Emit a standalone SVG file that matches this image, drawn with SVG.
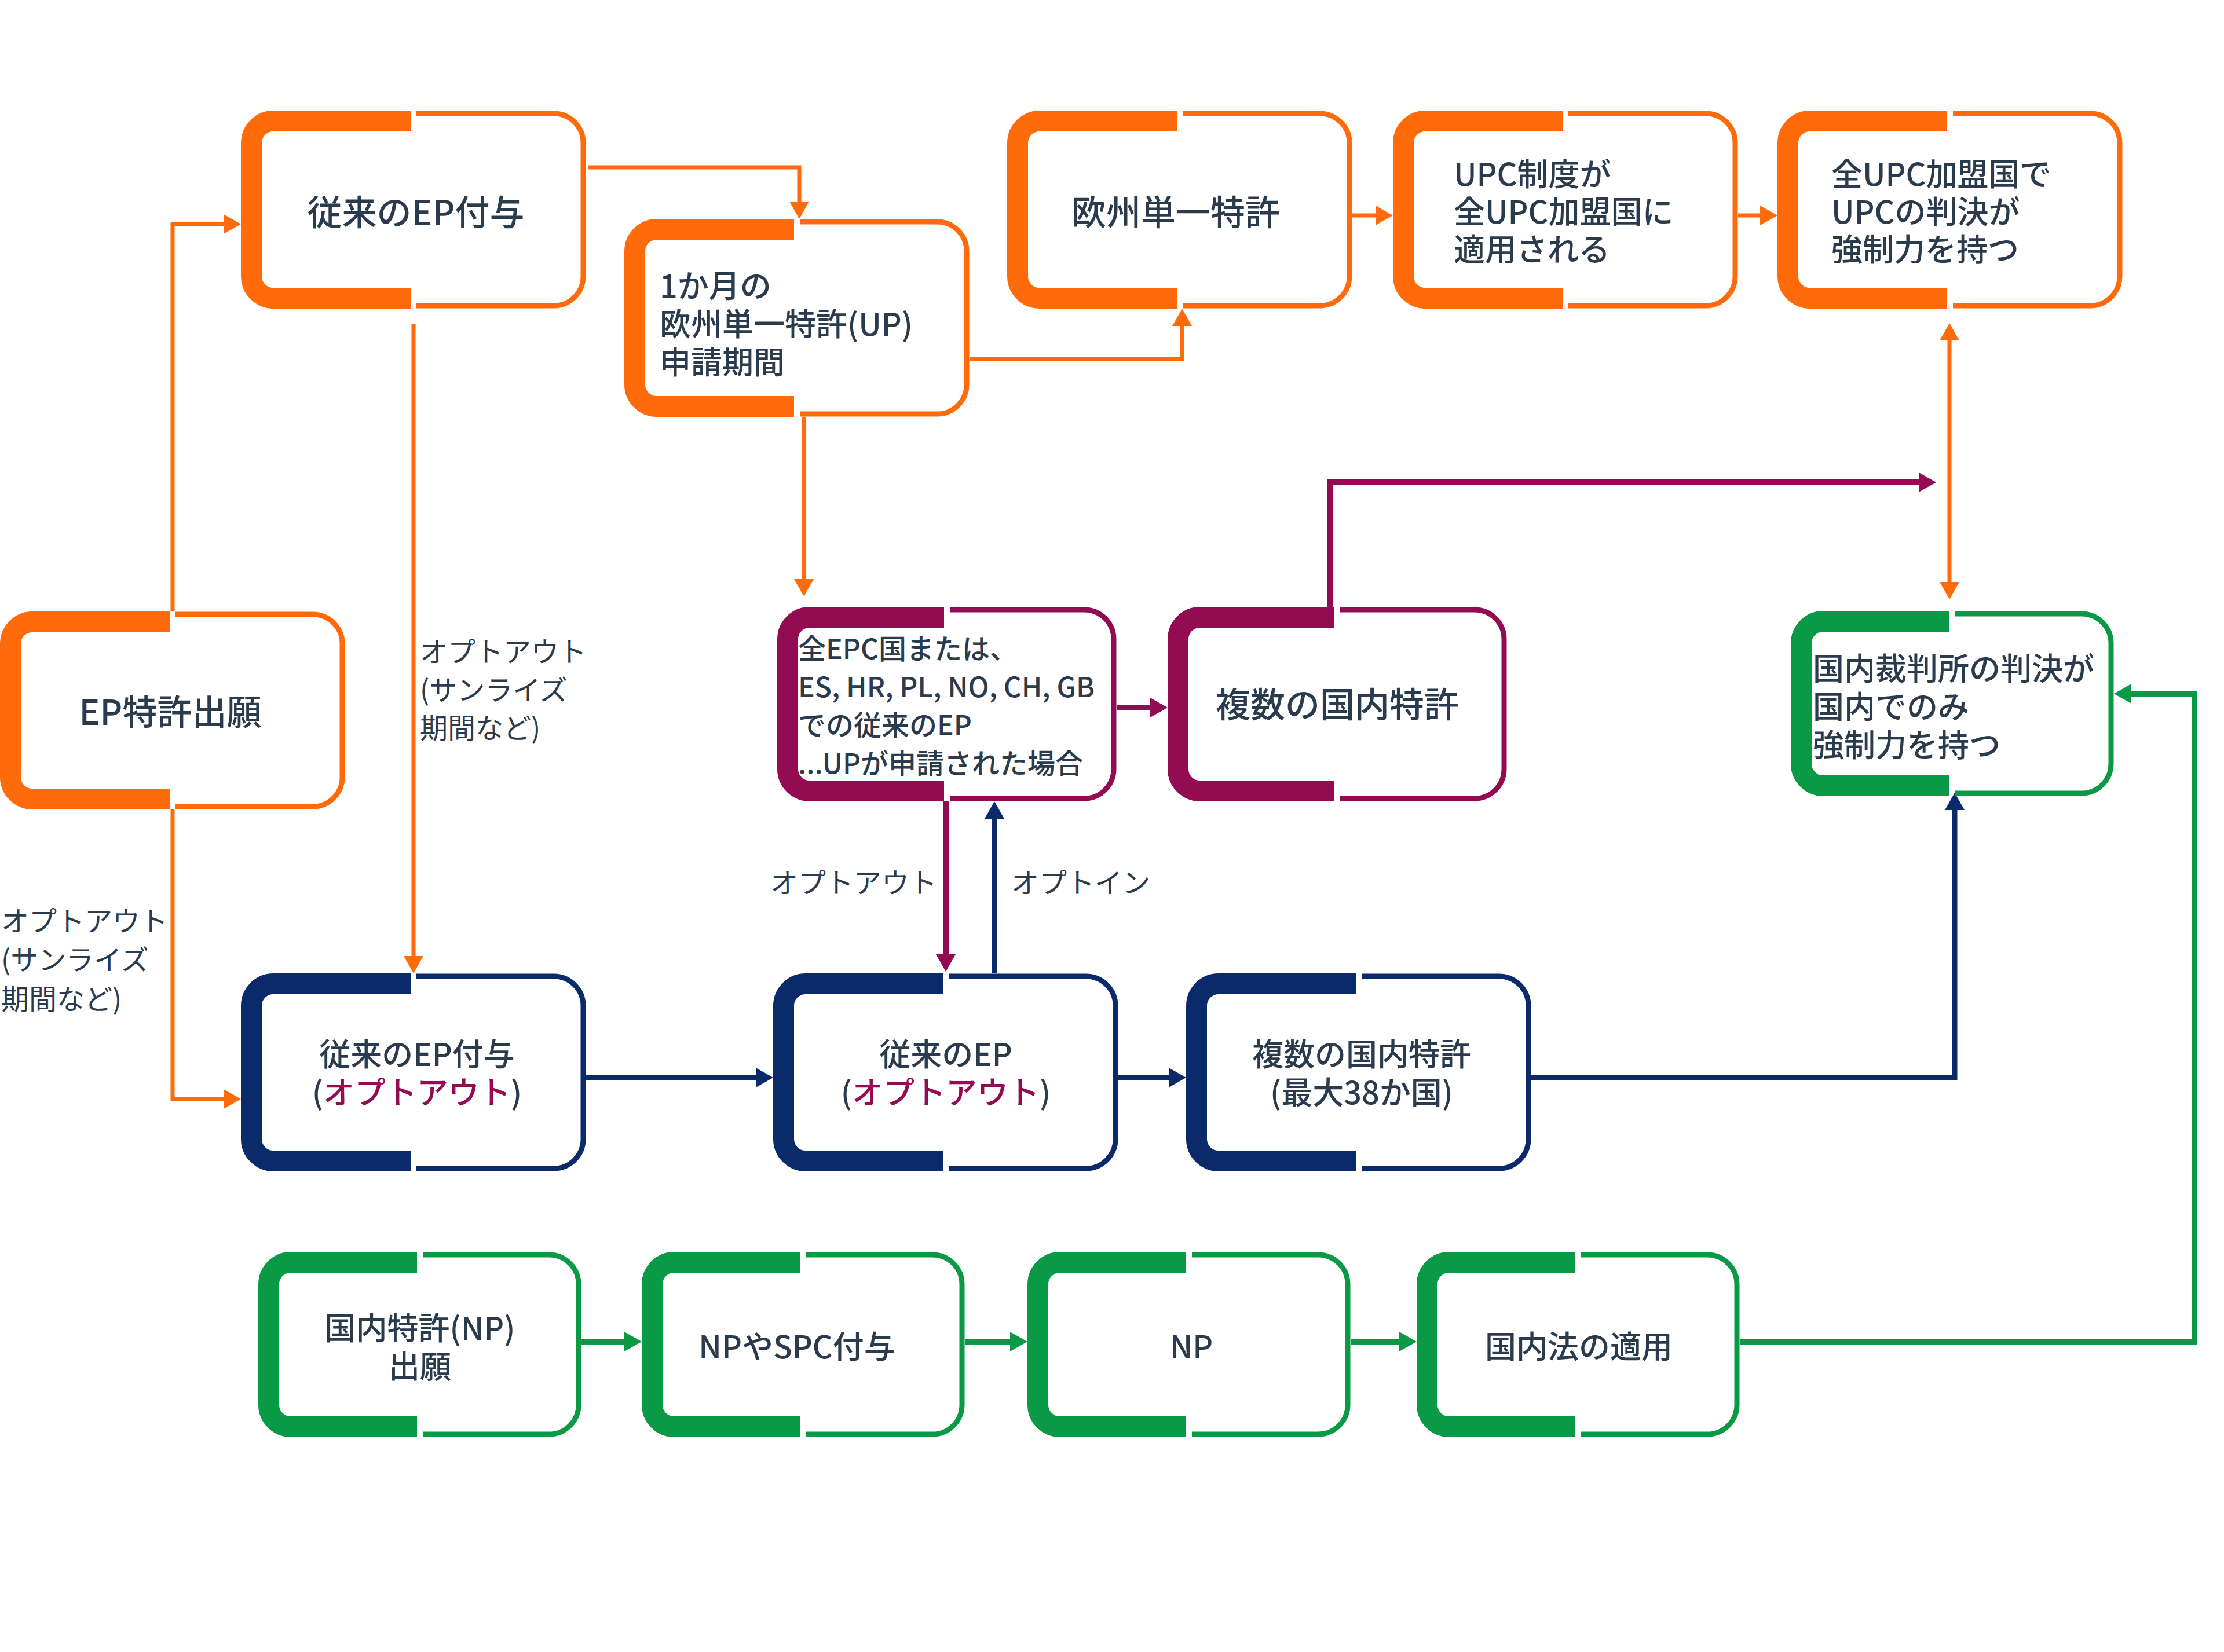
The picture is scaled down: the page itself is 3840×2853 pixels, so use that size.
<svg xmlns="http://www.w3.org/2000/svg" xmlns:xlink="http://www.w3.org/1999/xlink" width="3840" height="2853" viewBox="0 0 3840 2853">
<style>
.t{font-family:"Noto Sans CJK JP","Noto Sans",sans-serif;fill:#2B3B4E;dominant-baseline:central;font-weight:500}
.big{font-size:60px}
.mid{font-size:54px}
.sm{font-size:48px}
.lbl{font-size:48px;font-weight:400}
.c{text-anchor:middle}
.mg{fill:#930B52}
.th{fill:none;stroke-width:36;stroke-linecap:butt}
.tn{fill:none;stroke-width:9;stroke-linecap:butt}
.o{stroke:#FF6B0A}
.m{stroke:#930B52}
.n{stroke:#0A2A6A}
.g{stroke:#0A9A45}
.co{fill:none;stroke:#FF6B0A;stroke-width:7}
.cm{fill:none;stroke:#930B52;stroke-width:10}
.cn{fill:none;stroke:#0A2A6A;stroke-width:9}
.cg{fill:none;stroke:#0A9A45;stroke-width:10}
</style>
<defs>
<path id="thA" d="M293,18 H56 A38,38 0 0 0 18,56 V286 A38,38 0 0 0 56,324 H293"/>
<path id="tnA" d="M303,5 H540 A51,51 0 0 1 591,56 V286 A51,51 0 0 1 540,337 H303"/>
<path id="thM" d="M288,18 H56 A38,38 0 0 0 18,56 V280 A38,38 0 0 0 56,318 H288"/>
<path id="tnM" d="M298,5 H530 A51,51 0 0 1 581,56 V280 A51,51 0 0 1 530,331 H298"/>
<path id="thG" d="M274,18 H56 A38,38 0 0 0 18,56 V264 A38,38 0 0 0 56,302 H274"/>
<path id="tnG" d="M284,5 H502 A51,51 0 0 1 553,56 V264 A51,51 0 0 1 502,315 H284"/>
<marker id="ao" markerUnits="userSpaceOnUse" markerWidth="30" markerHeight="34" refX="10" refY="17" orient="auto-start-reverse"><path d="M0,0 L30,17 L0,34 z" fill="#FF6B0A"/></marker>
<marker id="am" markerUnits="userSpaceOnUse" markerWidth="30" markerHeight="34" refX="10" refY="17" orient="auto"><path d="M0,0 L30,17 L0,34 z" fill="#930B52"/></marker>
<marker id="an" markerUnits="userSpaceOnUse" markerWidth="30" markerHeight="34" refX="10" refY="17" orient="auto"><path d="M0,0 L30,17 L0,34 z" fill="#0A2A6A"/></marker>
<marker id="ag" markerUnits="userSpaceOnUse" markerWidth="30" markerHeight="34" refX="10" refY="17" orient="auto"><path d="M0,0 L30,17 L0,34 z" fill="#0A9A45"/></marker>
</defs>
<rect width="3840" height="2853" fill="#FFFFFF"/>

<g id="connectors">
<path class="co" d="M298,1056 V387 H396" marker-end="url(#ao)"/>
<path class="co" d="M298,1398 V1898 H396" marker-end="url(#ao)"/>
<path class="co" d="M714,560 V1661" marker-end="url(#ao)"/>
<path class="co" d="M1016,289 H1380 V358" marker-end="url(#ao)"/>
<path class="co" d="M1674,620 H2041 V553" marker-end="url(#ao)"/>
<path class="co" d="M1388,720 V1010" marker-end="url(#ao)"/>
<path class="co" d="M2335,372 H2385" marker-end="url(#ao)"/>
<path class="co" d="M3001,372 H3049" marker-end="url(#ao)"/>
<path class="co" d="M3366,578 V1015" marker-start="url(#ao)" marker-end="url(#ao)"/>
<path class="cm" d="M1928,1222 H1996" marker-end="url(#am)"/>
<path class="cm" d="M2297,1048 V833 H3323" marker-end="url(#am)"/>
<path class="cm" d="M1633,1384 V1658" marker-end="url(#am)"/>
<path class="cn" d="M1717,1681 V1404" marker-end="url(#an)"/>
<path class="cn" d="M1012,1861 H1315" marker-end="url(#an)"/>
<path class="cn" d="M1931,1861 H2028" marker-end="url(#an)"/>
<path class="cn" d="M2644,1861 H3375 V1389" marker-end="url(#an)"/>
<path class="cg" d="M1004,2317 H1088" marker-end="url(#ag)"/>
<path class="cg" d="M1666,2317 H1754" marker-end="url(#ag)"/>
<path class="cg" d="M2332,2317 H2426" marker-end="url(#ag)"/>
<path class="cg" d="M3004,2317 H3789 V1198 H3670" marker-end="url(#ag)"/>
<text class="t lbl" x="2" y="1587">オプトアウト<tspan x="2" dy="67">(サンライズ</tspan><tspan x="2" dy="68">期間など)</tspan></text>
<text class="t lbl" x="725" y="1122">オプトアウト<tspan x="725" dy="66">(サンライズ</tspan><tspan x="725" dy="66">期間など)</tspan></text>
<text class="t lbl" x="1330" y="1521">オプトアウト</text>
<text class="t lbl" x="1746" y="1521">オプトイン</text>
</g>

<g id="n1" transform="translate(416,191)">
<use xlink:href="#thA" class="th o"/><use xlink:href="#tnA" class="tn o"/>
<text class="t big c" x="302" y="171">従来のEP付与</text>
</g>
<g id="n2" transform="translate(1078,378)">
<use xlink:href="#thA" class="th o"/><use xlink:href="#tnA" class="tn o"/>
<text class="t mid" x="61" y="112">1か月の<tspan x="61" dy="66">欧州単一特許(UP)</tspan><tspan x="61" dy="66">申請期間</tspan></text>
</g>
<g id="n3" transform="translate(1739,191)">
<use xlink:href="#thA" class="th o"/><use xlink:href="#tnA" class="tn o"/>
<text class="t big c" x="291" y="171">欧州単一特許</text>
</g>
<g id="n4" transform="translate(2405,191)">
<use xlink:href="#thA" class="th o"/><use xlink:href="#tnA" class="tn o"/>
<text class="t mid" x="105" y="106">UPC制度が<tspan x="105" dy="65">全UPC加盟国に</tspan><tspan x="105" dy="65">適用される</tspan></text>
</g>
<g id="n5" transform="translate(3069,191)">
<use xlink:href="#thA" class="th o"/><use xlink:href="#tnA" class="tn o"/>
<text class="t mid" x="93" y="106">全UPC加盟国で<tspan x="93" dy="65">UPCの判決が</tspan><tspan x="93" dy="65">強制力を持つ</tspan></text>
</g>
<g id="n6" transform="translate(0,1056)">
<use xlink:href="#thA" class="th o"/><use xlink:href="#tnA" class="tn o"/>
<text class="t big c" x="294" y="169">EP特許出願</text>
</g>
<g id="n7" transform="translate(1342,1048)">
<use xlink:href="#thM" class="th m"/><use xlink:href="#tnM" class="tn m"/>
<text class="t sm" x="36" y="69">全EPC国または、<tspan x="36" dy="66">ES, HR, PL, NO, CH, GB</tspan><tspan x="36" dy="66">での従来のEP</tspan><tspan x="36" dy="66">...UPが申請された場合</tspan></text>
</g>
<g id="n8" transform="translate(2016,1048)">
<use xlink:href="#thM" class="th m"/><use xlink:href="#tnM" class="tn m"/>
<text class="t big c" x="293" y="164">複数の国内特許</text>
</g>
<g id="n9" transform="translate(3092,1055)">
<use xlink:href="#thG" class="th g"/><use xlink:href="#tnG" class="tn g"/>
<text class="t mid" x="38" y="96">国内裁判所の判決が<tspan x="38" dy="66">国内でのみ</tspan><tspan x="38" dy="66">強制力を持つ</tspan></text>
</g>
<g id="n10" transform="translate(416,1681)">
<use xlink:href="#thA" class="th n"/><use xlink:href="#tnA" class="tn n"/>
<text class="t mid c" x="304" y="136">従来のEP付与<tspan x="304" dy="66">(</tspan><tspan class="mg">オプトアウト</tspan>)</text>
</g>
<g id="n11" transform="translate(1335,1681)">
<use xlink:href="#thA" class="th n"/><use xlink:href="#tnA" class="tn n"/>
<text class="t mid c" x="298" y="136">従来のEP<tspan x="298" dy="66">(</tspan><tspan class="mg">オプトアウト</tspan>)</text>
</g>
<g id="n12" transform="translate(2048,1681)">
<use xlink:href="#thA" class="th n"/><use xlink:href="#tnA" class="tn n"/>
<text class="t mid c" x="303" y="136">複数の国内特許<tspan x="303" dy="66">(最大38か国)</tspan></text>
</g>
<g id="n13" transform="translate(446,2162)">
<use xlink:href="#thG" class="th g"/><use xlink:href="#tnG" class="tn g"/>
<text class="t mid c" x="279" y="128">国内特許(NP)<tspan x="279" dy="66">出願</tspan></text>
</g>
<g id="n14" transform="translate(1108,2162)">
<use xlink:href="#thG" class="th g"/><use xlink:href="#tnG" class="tn g"/>
<text class="t mid c" x="268" y="160">NPやSPC付与</text>
</g>
<g id="n15" transform="translate(1774,2162)">
<use xlink:href="#thG" class="th g"/><use xlink:href="#tnG" class="tn g"/>
<text class="t mid c" x="283" y="160">NP</text>
</g>
<g id="n16" transform="translate(2446,2162)">
<use xlink:href="#thG" class="th g"/><use xlink:href="#tnG" class="tn g"/>
<text class="t mid c" x="280" y="160">国内法の適用</text>
</g>
</svg>
